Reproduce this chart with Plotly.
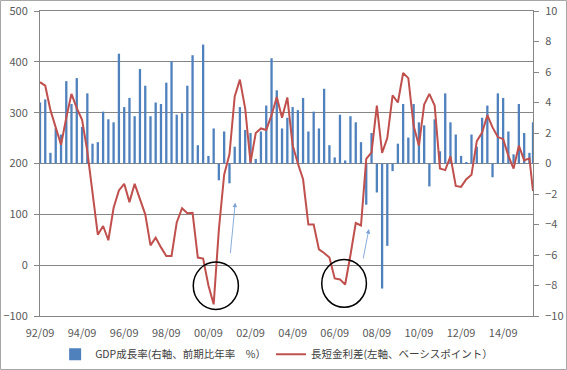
import plotly.graph_objects as go
import pandas as pd

# Quarterly dates (end-month of quarter), plus a final monthly point
dates = list(pd.date_range("1992-09-01", periods=94, freq="3MS").strftime("%Y-%m-%d")) + ["2016-02-01"]

# GDP growth rate (right axis, % q/q annualized)
gdp = [4.0, 4.2, 0.7, 2.3, 1.9, 5.4, 3.9, 5.6, 2.4, 4.6,
       1.3, 1.4, 3.4, 2.9, 2.7, 7.2, 3.7, 4.3, 3.1, 6.2,
       5.1, 3.1, 4.0, 3.9, 5.3, 6.7, 3.2, 3.3, 5.1, 7.1,
       1.2, 7.8, 0.5, 2.3, -1.1, 2.1, -1.3, 1.1, 3.7, 2.2,
       2.0, 0.3, 2.1, 3.8, 6.9, 4.8, 2.3, 3.0, 3.7, 3.5,
       4.3, 2.1, 3.4, 2.3, 4.9, 1.2, 0.4, 3.2, 0.2, 3.1,
       2.7, 1.4, -2.7, 2.0, -1.9, -8.2, -5.4, -0.5, 1.3, 3.9,
       1.7, 3.9, 2.7, 2.5, -1.5, 2.9, 0.8, 4.6, 2.7, 1.9,
       0.5, 0.1, 1.9, 1.1, 3.0, 3.8, -0.9, 4.6, 4.3, 2.1,
       0.6, 3.9, 2.0, 0.7, 2.7]

# Long-short yield spread (left axis, basis points)
spread = [360, 353, 305, 270, 237, 290, 337, 309, 286, 224,
          139, 60, 77, 49, 113, 147, 160, 124, 160, 129,
          100, 39, 54, 35, 18, 18, 84, 112, 102, 103,
          15, 13, -40, -77, 70, 178, 218, 332, 365, 308,
          202, 260, 269, 266, 295, 331, 290, 330, 236, 200,
          169, 80, 80, 31, 24, 15, -26, -28, -38, 20,
          83, 78, 209, 222, 314, 221, 250, 334, 320, 378,
          368, 274, 235, 316, 337, 314, 190, 187, 214, 156,
          154, 169, 178, 244, 261, 295, 271, 252, 248, 215,
          190, 235, 206, 210, 146]

name_gdp = "GDP成長率(右軸、前期比年率　%）"
name_spread = "長短金利差(左軸、ベーシスポイント）"

AX = "#868686"
fig = go.Figure()
fig.add_trace(go.Bar(x=dates, y=gdp, name=name_gdp, yaxis="y",
                     marker=dict(color="#4F81BD", line=dict(width=0)),
                     width=40 * 86400000))
fig.add_trace(go.Scatter(x=dates, y=spread, name=name_spread, yaxis="y2",
                         mode="lines", line=dict(color="#C0504D", width=2)))

# circles and arrows (annotations)
circle_style = dict(type="circle", xref="x", yref="y2", line=dict(color="black", width=1.5))
fig.add_shape(x0="1999-12-13", x1="2002-02-03", y0=-87, y1=6, **circle_style)
fig.add_shape(x0="2006-01-19", x1="2008-03-04", y0=-83, y1=11, **circle_style)
arrow_style = dict(xref="x", yref="y2", showarrow=True, arrowhead=2, arrowsize=1,
                   arrowwidth=0.9, arrowcolor="#7BA3D6", text="")
fig.add_annotation(x="2001-12-10", y=123, ax=-5, ay=52, **arrow_style)
fig.add_annotation(x="2008-04-16", y=71, ax=-6, ay=31, **arrow_style)

fig.update_layout(
    width=567, height=370,
    margin=dict(l=40, r=34, t=11, b=54, autoexpand=False),
    plot_bgcolor="white", paper_bgcolor="white",
    font=dict(family="Noto Sans CJK JP", size=11, color="#595959"),
    showlegend=True,
    legend=dict(orientation="h", x=0.48, xanchor="center", y=-0.125, yanchor="middle",
                font=dict(size=10.5, color="#404040"), itemwidth=30,
                bgcolor="rgba(0,0,0,0)"),
    xaxis=dict(type="date", range=["1992-09-01", "2016-02-01"], tick0="1992-09-01",
               dtick="M24", tickformat="%y/%m", showgrid=False, showline=True,
               linecolor=AX, mirror=True, ticks="", ticklabelstandoff=7),
    yaxis=dict(side="right", range=[-10, 10], tick0=-10, dtick=2, showgrid=False,
               zeroline=False, showline=True, linecolor=AX, ticks="outside",
               ticklen=5, tickcolor=AX, ticklabelstandoff=4),
    yaxis2=dict(side="left", overlaying="y", range=[-100, 500], tick0=-100, dtick=100,
                showgrid=True, gridcolor=AX, gridwidth=1, zeroline=False, showline=True,
                linecolor=AX, ticks="outside", ticklen=5, tickcolor=AX, ticklabelstandoff=4),
)
# chart-area border
fig.add_shape(type="rect", xref="paper", yref="paper",
              x0=(0.5 - 40) / 493, x1=(566.5 - 40) / 493,
              y0=(316 - 369.5) / 305, y1=1 + (11 - 0.5) / 305,
              line=dict(color="#A6A6A6", width=1), layer="below")

fig.write_html("out.html", config={"displayModeBar": False},
               post_script="document.body.style.margin='0';document.body.style.overflow='hidden';")
